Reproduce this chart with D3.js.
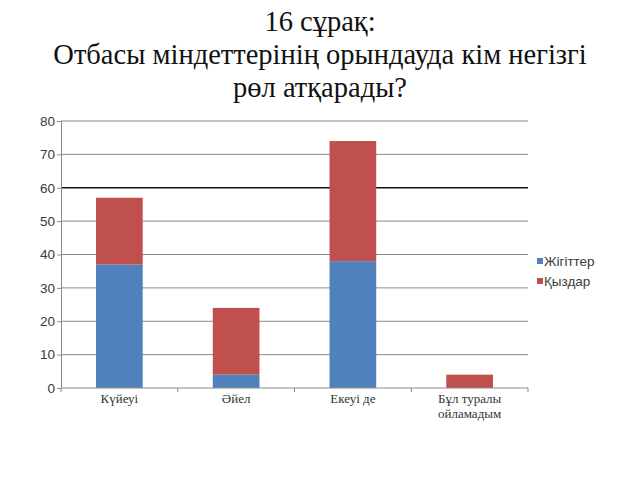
<!DOCTYPE html>
<html><head><meta charset="utf-8">
<script src="https://cdn.jsdelivr.net/npm/d3@7"></script>
<style>body{margin:0;background:#fff}</style>
</head><body>
<svg id="c" width="640" height="480"></svg>
<script>
const titleLines = ["16 сұрақ:", "Отбасы міндеттерінің орындауда кім негізгі", "рөл атқарады?"];
const categories = [["Күйеуі"], ["Әйел"], ["Екеуі де"], ["Бұл туралы", "ойламадым"]];
const seriesNames = ["Жігіттер", "Қыздар"];
const boys = [37, 4, 38, 0];
const girls = [20, 20, 36, 4];
const yTicks = [0, 10, 20, 30, 40, 50, 60, 70, 80];
const colors = ["#4F81BD", "#C0504D"];

const svg = d3.select("#c");
const m = {left: 61, right: 528, top: 121, bottom: 388};

svg.selectAll("text.title").data(titleLines).enter().append("text")
  .attr("x", 320).attr("y", (d, i) => 31 + i * 33)
  .attr("text-anchor", "middle")
  .attr("font-family", "Liberation Serif, Times New Roman, serif")
  .attr("font-size", 28.5).attr("fill", "#111").text(d => d);

const x = d3.scaleBand().domain(d3.range(categories.length)).range([m.left, m.right]).paddingInner(0.6).paddingOuter(0.3);
const y = d3.scaleLinear().domain([0, 80]).range([m.bottom, m.top]);

// gridlines
svg.append("g").selectAll("line").data(yTicks.filter(t => t > 0)).enter().append("line")
  .attr("x1", m.left).attr("x2", m.right)
  .attr("y1", d => y(d)).attr("y2", d => y(d))
  .attr("stroke", d => d === 60 ? "#111" : "#8a8a8a").attr("stroke-width", d => d === 60 ? 1.3 : 1);

// y axis
const ya = svg.append("g").attr("transform", `translate(${m.left},0)`)
  .call(d3.axisLeft(y).tickValues(yTicks).tickSize(4).tickPadding(2));
ya.select(".domain").attr("stroke", "#8a8a8a");
ya.selectAll(".tick line").attr("stroke", "#8a8a8a");
ya.selectAll("text").attr("font-family", "Liberation Sans, Arial, sans-serif").attr("font-size", 13.5).attr("fill", "#3a3a3a");

// stacked bars
const data = categories.map((c, i) => ({i, b: boys[i], g: girls[i]}));
const stack = d3.stack().keys(["b", "g"])(data);
svg.append("g").selectAll("g").data(stack).enter().append("g")
  .attr("fill", (d, k) => colors[k])
  .selectAll("rect").data(d => d).enter().append("rect")
  .attr("x", d => x(d.data.i)).attr("width", x.bandwidth())
  .attr("y", d => y(d[1])).attr("height", d => y(d[0]) - y(d[1]));

// x axis
const bandStep = (m.right - m.left) / categories.length;
svg.append("line").attr("x1", m.left).attr("x2", m.right).attr("y1", m.bottom).attr("y2", m.bottom).attr("stroke", "#8a8a8a");
svg.append("g").selectAll("line").data(d3.range(categories.length + 1)).enter().append("line")
  .attr("x1", d => m.left + d * bandStep).attr("x2", d => m.left + d * bandStep)
  .attr("y1", m.bottom).attr("y2", m.bottom + 4).attr("stroke", "#8a8a8a");
const cl = svg.append("g").selectAll("text").data(categories).enter().append("text")
  .attr("text-anchor", "middle")
  .attr("font-family", "Liberation Serif, Times New Roman, serif").attr("font-size", 13).attr("fill", "#333");
cl.each(function(d, i) {
  d3.select(this).selectAll("tspan").data(d).enter().append("tspan")
    .attr("x", x(i) + x.bandwidth() / 2).attr("y", (t, j) => 403 + j * 15).text(t => t);
});

// legend
const lg = svg.append("g").selectAll("g").data(seriesNames).enter().append("g")
  .attr("transform", (d, i) => `translate(537,${266 + i * 20})`);
lg.append("rect").attr("x", 0).attr("y", -8).attr("width", 6).attr("height", 6).attr("fill", (d, i) => colors[i]);
lg.append("text").attr("x", 7).attr("y", 0)
  .attr("font-family", "Liberation Sans, Arial, sans-serif").attr("font-size", 13.5).attr("fill", "#3a3a3a").text(d => d);
</script>
</body></html>
